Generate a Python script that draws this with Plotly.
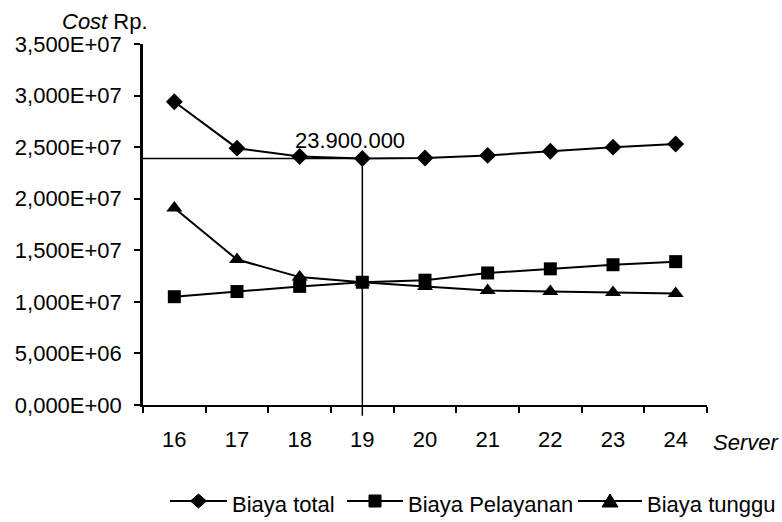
import plotly.graph_objects as go

# Number of servers
servers = ["16", "17", "18", "19", "20", "21", "22", "23", "24"]

# Costs in Rupiah
biaya_total = [2.94e7, 2.49e7, 2.41e7, 2.39e7, 2.395e7, 2.42e7, 2.46e7, 2.50e7, 2.53e7]
biaya_pelayanan = [1.05e7, 1.10e7, 1.15e7, 1.19e7, 1.21e7, 1.28e7, 1.32e7, 1.36e7, 1.39e7]
biaya_tunggu = [1.91e7, 1.41e7, 1.24e7, 1.19e7, 1.15e7, 1.11e7, 1.10e7, 1.09e7, 1.08e7]

# Y axis ticks
y_tickvals = [0, 5e6, 1e7, 1.5e7, 2e7, 2.5e7, 3e7, 3.5e7]
y_ticktext = ["0,000E+00", "5,000E+06", "1,000E+07", "1,500E+07",
              "2,000E+07", "2,500E+07", "3,000E+07", "3,500E+07"]

Y_MAX = 3.5e7
optimum_server = "19"
optimum_cost = 2.39e7
optimum_label = "23.900.000"

FONT = "Liberation Sans, Arial, sans-serif"
FS = 22

W, H = 782, 522
ML, MR, MT, MB = 143, 75, 44, 117
PW, PH = W - ML - MR, H - MT - MB


def px_x(px):
    """Horizontal pixel position -> paper coordinate."""
    return (px - ML) / PW


def px_y(py):
    """Vertical pixel position (from top) -> paper coordinate."""
    return (H - MB - py) / PH


fig = go.Figure()

series = [
    ("Biaya total", biaya_total, "diamond", 13),
    ("Biaya Pelayanan", biaya_pelayanan, "square", 13),
    ("Biaya tunggu", biaya_tunggu, "triangle-up", 14),
]
for name, vals, sym, sz in series:
    fig.add_trace(go.Scatter(
        x=servers, y=vals, name=name, mode="lines+markers",
        line=dict(color="black", width=2),
        marker=dict(symbol=sym, size=sz, color="black"),
        cliponaxis=False, showlegend=False,
    ))

opt_idx = servers.index(optimum_server)

# Guide lines to the optimum point
fig.add_shape(type="line", xref="x", yref="y",
              x0=-0.5, x1=opt_idx, y0=optimum_cost, y1=optimum_cost,
              line=dict(color="black", width=1.5))
fig.add_shape(type="line", xref="x", yref="paper",
              x0=opt_idx, x1=opt_idx, y0=-0.03, y1=optimum_cost / Y_MAX,
              line=dict(color="black", width=1.5))

fig.add_annotation(x=opt_idx, y=optimum_cost, text=optimum_label,
                   showarrow=False, xanchor="center", yanchor="bottom",
                   xshift=-12, yshift=3,
                   font=dict(family=FONT, size=FS, color="black"))

fig.add_annotation(xref="paper", yref="paper", x=px_x(150), y=px_y(22),
                   text="<i>Cost</i> Rp.", showarrow=False,
                   xanchor="right", yanchor="middle",
                   font=dict(family=FONT, size=FS, color="black"))
fig.add_annotation(xref="paper", yref="paper", x=px_x(711), y=px_y(443),
                   text="<i>Server</i>", showarrow=False,
                   xanchor="left", yanchor="middle",
                   font=dict(family=FONT, size=FS, color="black"))

# Legend row below the chart: sample line, marker glyph, then the label
legend_y = 501
marker_paths = {
    "diamond": "M-8,0 L0,7 L8,0 L0,-7 Z",
    "square": "M-6,-6 L6,-6 L6,6 L-6,6 Z",
    "triangle-up": "M-8,-6 L8,-6 L0,7 Z",
}
legend_items = [
    ("Biaya total", "diamond", 170, 227, 230),
    ("Biaya Pelayanan", "square", 347, 403, 406),
    ("Biaya tunggu", "triangle-up", 578, 642, 645),
]
for label, sym, lx0, lx1, tx in legend_items:
    fig.add_shape(type="line", xref="paper", yref="paper",
                  x0=px_x(lx0), x1=px_x(lx1), y0=px_y(legend_y), y1=px_y(legend_y),
                  line=dict(color="black", width=2))
    fig.add_shape(type="path", xref="paper", yref="paper",
                  xsizemode="pixel", ysizemode="pixel",
                  xanchor=px_x((lx0 + lx1) / 2), yanchor=px_y(legend_y),
                  path=marker_paths[sym], fillcolor="black",
                  line=dict(color="black", width=1))
    fig.add_annotation(xref="paper", yref="paper", x=px_x(tx), y=px_y(legend_y + 3),
                       text=label, showarrow=False, xanchor="left", yanchor="middle",
                       font=dict(family=FONT, size=FS, color="black"))

fig.update_layout(
    width=W, height=H,
    margin=dict(l=ML, r=MR, t=MT, b=MB),
    paper_bgcolor="white", plot_bgcolor="white",
    font=dict(family=FONT, size=FS, color="black"),
    showlegend=False,
    xaxis=dict(type="category", range=[-0.5, len(servers) - 0.5],
               categoryorder="array", categoryarray=servers,
               tickmode="array", tickvals=servers, ticktext=servers,
               tickangle=0, showgrid=False, zeroline=False,
               showline=True, linecolor="black", linewidth=2,
               ticks="outside", tickson="boundaries", ticklen=6,
               tickwidth=1.5, tickcolor="black",
               ticklabelstandoff=14,
               tickfont=dict(family=FONT, size=FS, color="black")),
    yaxis=dict(range=[0, Y_MAX], showgrid=False, zeroline=False,
               showline=True, linecolor="black", linewidth=2.5,
               ticks="outside", ticklen=6, tickwidth=1.5, tickcolor="black",
               tickvals=y_tickvals, ticktext=y_ticktext,
               ticklabelstandoff=8,
               tickfont=dict(family=FONT, size=FS, color="black")),
)

fig.write_html("out.html")
